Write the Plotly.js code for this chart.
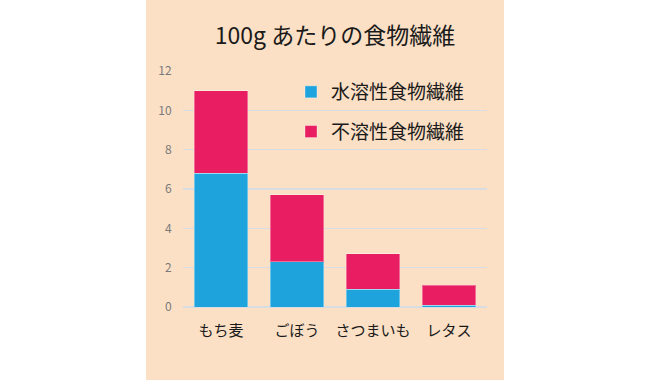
<!DOCTYPE html>
<html>
<head>
<meta charset="utf-8">
<script src="https://cdn.plot.ly/plotly-3.0.1.min.js"></script>
<style>html,body{margin:0;padding:0;background:#fff;}#chart{width:650px;height:380px;}</style>
</head>
<body>
<div id="chart"></div>
<script>
const categories = ["もち麦", "ごぼう", "さつまいも", "レタス"];
const solubleName = "水溶性食物繊維";
const insolubleName = "不溶性食物繊維";
const soluble = [6.8, 2.3, 0.9, 0.1];
const insoluble = [4.2, 3.4, 1.8, 1.0];
const yTicks = [0, 2, 4, 6, 8, 10, 12];
const titleText = "100g あたりの食物繊維";

const FONT = "'Noto Sans CJK JP', 'Noto Sans', sans-serif";

const traces = [
  {
    type: "bar", name: solubleName, x: categories, y: soluble,
    marker: {color: "#1FA3DC", line: {color: "rgba(255,255,255,0.35)", width: 1}},
    legendgroup: "a", hoverinfo: "x+y+name"
  },
  {
    type: "bar", name: insolubleName, x: categories, y: insoluble,
    marker: {color: "#E91D62", line: {color: "rgba(255,255,255,0.35)", width: 1}},
    legendgroup: "b", hoverinfo: "x+y+name"
  }
];

const L = 183, R = 487, T = 71, B = 307, W = 650, H = 380;
const pw = R - L, ph = B - T;
const layout = {
  width: W, height: H,
  margin: {l: L, r: W - R, t: T, b: H - B, pad: 0},
  paper_bgcolor: "#ffffff",
  plot_bgcolor: "rgba(0,0,0,0)",
  barmode: "stack",
  bargap: 0.29,
  font: {family: FONT, color: "#222"},
  title: {text: titleText, font: {size: 23, color: "#1a1a1a", family: FONT}, x: 0.5, xanchor: "center", y: 1 - 36 / H, yanchor: "middle", xref: "paper"},
  shapes: [{
    type: "rect", xref: "paper", yref: "paper", layer: "below",
    x0: (146 - L) / pw, x1: (504 - L) / pw,
    y0: -(H - B) / ph, y1: B / ph,
    fillcolor: "#FBE0C5", line: {width: 0}
  }],
  xaxis: {
    type: "category", showgrid: false, showline: false, zeroline: false,
    tickfont: {size: 15, color: "#1a1a1a", family: FONT},
    ticks: "outside", ticklen: 10, tickcolor: "rgba(0,0,0,0)"
  },
  yaxis: {
    range: [0, 12], tickvals: yTicks, ticktext: yTicks.map(String),
    showgrid: true, gridcolor: "#D8DCE3", gridwidth: 1.5,
    zeroline: true, zerolinecolor: "#D8DCE3", zerolinewidth: 1.5,
    showline: false,
    tickfont: {size: 12, color: "#7a7a7a", family: FONT},
    ticks: "outside", ticklen: 8, tickcolor: "rgba(0,0,0,0)"
  },
  legend: {
    x: (291 - L) / pw, y: 1 - (73 - T) / ph, xanchor: "left", yanchor: "top",
    bgcolor: "rgba(0,0,0,0)", borderwidth: 0,
    font: {size: 19, color: "#1a1a1a", family: FONT},
    traceorder: "grouped", tracegroupgap: 12
  },
  showlegend: true
};

Plotly.newPlot("chart", traces, layout, {displayModeBar: false, staticPlot: true});
</script>
</body>
</html>
